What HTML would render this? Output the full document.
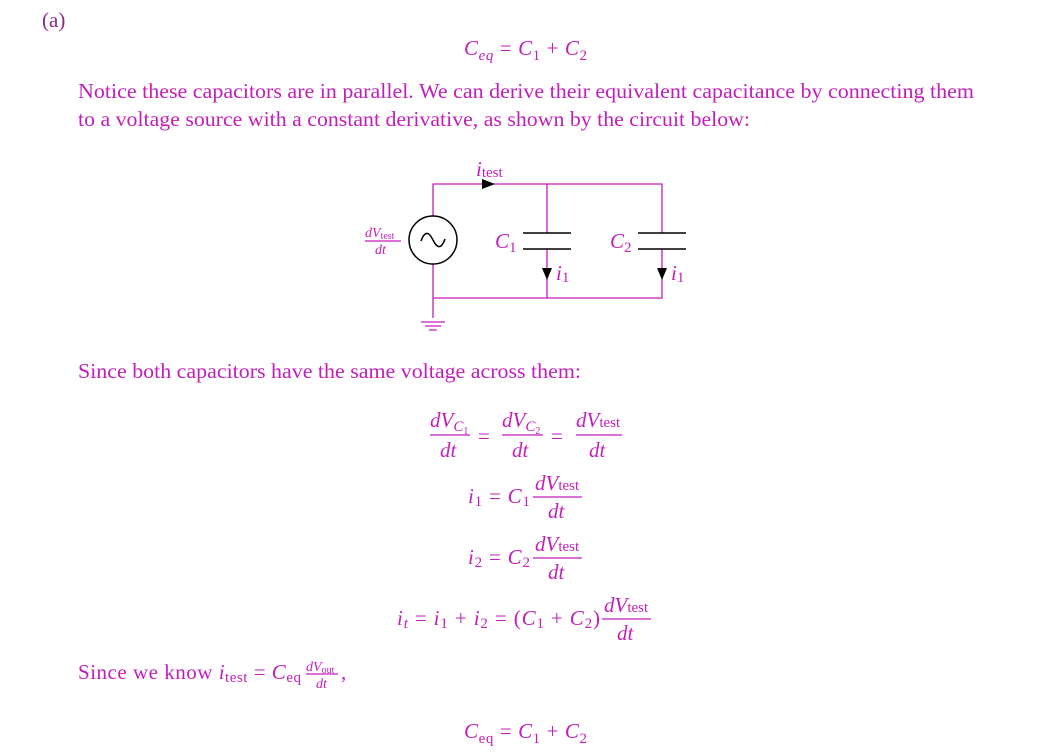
<!DOCTYPE html>
<html><head><meta charset="utf-8"><style>
html,body{margin:0;padding:0;background:#fff;}
svg{display:block;font-family:"Liberation Serif",serif;}
.t{fill:#c21fb8;font-size:21px;}
.i{font-style:italic;}
.s{font-size:15px;}
.w{stroke:#c21fb8;stroke-width:1.3;fill:none;}
.k{stroke:#000;stroke-width:1.5;fill:none;}
</style></head><body>
<svg width="1048" height="753" viewBox="0 0 1048 753">
<text x="42" y="27" style="fill:#8a2a8a;font-size:21px">(a)</text>

<g class="t">
<text x="464" y="55" textLength="123" lengthAdjust="spacing"><tspan class="i">C</tspan><tspan class="i s" dy="5">eq</tspan><tspan dy="-5"> = </tspan><tspan class="i">C</tspan><tspan class="s" dy="5">1</tspan><tspan dy="-5"> + </tspan><tspan class="i">C</tspan><tspan class="s" dy="5">2</tspan></text>
</g>

<text class="t" x="78" y="98" textLength="896" lengthAdjust="spacingAndGlyphs">Notice these capacitors are in parallel. We can derive their equivalent capacitance by connecting them</text>
<text class="t" x="78" y="126" textLength="672" lengthAdjust="spacingAndGlyphs">to a voltage source with a constant derivative, as shown by the circuit below:</text>

<g>
<path class="w" d="M433 216 V184 H662 V233 M547 184 V233 M547 249 V298 M662 249 V298 H433 V264 M433 298 V318"/>
<path class="w" d="M421 322 H445 M425 326 H441 M429 330 H437"/>
<path class="k" d="M523 233 H571 M523 249 H571 M638 233 H686 M638 249 H686"/>
<circle class="k" cx="433" cy="240" r="24"/>
<path class="k" d="M421 241 C425 230 429 232 433 240 C437 248 441 250 445 239"/>
<path d="M482 179 L495 184 L482 189 Z" fill="#000"/>
<path d="M542 268 L552 268 L547 280 Z" fill="#000"/>
<path d="M657 268 L667 268 L662 280 Z" fill="#000"/>
<g class="t">
<text x="476" y="176"><tspan class="i">i</tspan><tspan class="s" dy="1">test</tspan></text>
<text x="495" y="248"><tspan class="i">C</tspan><tspan class="s" dy="4">1</tspan></text>
<text x="610" y="248"><tspan class="i">C</tspan><tspan class="s" dy="4">2</tspan></text>
<text x="556" y="280"><tspan class="i">i</tspan><tspan class="s" dy="2">1</tspan></text>
<text x="671" y="280"><tspan class="i">i</tspan><tspan class="s" dy="2">1</tspan></text>
<text x="365" y="237" style="font-size:14px"><tspan class="i">dV</tspan><tspan style="font-size:10px" dy="2">test</tspan></text>
<text x="375" y="254" class="i" style="font-size:14px">dt</text>
</g>
<path class="w" d="M365 241 H401"/>
</g>

<text class="t" x="78" y="378" textLength="503" lengthAdjust="spacingAndGlyphs">Since both capacitors have the same voltage across them:</text>

<g class="t">
<text x="430" y="427"><tspan class="i">dV</tspan><tspan class="i s" dy="4">C</tspan><tspan style="font-size:10px" dy="3">1</tspan></text>
<text x="440" y="457" class="i">dt</text>
<text x="478" y="443">=</text>
<text x="502" y="427"><tspan class="i">dV</tspan><tspan class="i s" dy="4">C</tspan><tspan style="font-size:10px" dy="3">2</tspan></text>
<text x="512" y="457" class="i">dt</text>
<text x="551" y="443">=</text>
<text x="576" y="427"><tspan class="i">dV</tspan><tspan class="s" dy="0">test</tspan></text>
<text x="589" y="457" class="i">dt</text>
</g>
<path class="w" d="M430 435 H470 M502 435 H543 M576 435 H622"/>

<g class="t">
<text x="468" y="503" textLength="62" lengthAdjust="spacing"><tspan class="i">i</tspan><tspan class="s" dy="3">1</tspan><tspan dy="-3"> = </tspan><tspan class="i">C</tspan><tspan class="s" dy="3">1</tspan></text>
<text x="535" y="490"><tspan class="i">dV</tspan><tspan class="s">test</tspan></text>
<text x="548" y="518" class="i">dt</text>
</g>
<path class="w" d="M533 497 H582"/>

<g class="t">
<text x="468" y="564" textLength="62" lengthAdjust="spacing"><tspan class="i">i</tspan><tspan class="s" dy="3">2</tspan><tspan dy="-3"> = </tspan><tspan class="i">C</tspan><tspan class="s" dy="3">2</tspan></text>
<text x="535" y="551"><tspan class="i">dV</tspan><tspan class="s">test</tspan></text>
<text x="548" y="579" class="i">dt</text>
</g>
<path class="w" d="M533 558 H582"/>

<g class="t">
<text x="397" y="625" textLength="203" lengthAdjust="spacing"><tspan class="i">i</tspan><tspan class="i s" dy="3">t</tspan><tspan dy="-3"> = </tspan><tspan class="i">i</tspan><tspan class="s" dy="3">1</tspan><tspan dy="-3"> + </tspan><tspan class="i">i</tspan><tspan class="s" dy="3">2</tspan><tspan dy="-3"> = (</tspan><tspan class="i">C</tspan><tspan class="s" dy="3">1</tspan><tspan dy="-3"> + </tspan><tspan class="i">C</tspan><tspan class="s" dy="3">2</tspan><tspan dy="-3">)</tspan></text>
<text x="604" y="612"><tspan class="i">dV</tspan><tspan class="s">test</tspan></text>
<text x="617" y="640" class="i">dt</text>
</g>
<path class="w" d="M602 619 H651"/>

<g class="t">
<text x="78" y="679" textLength="223" lengthAdjust="spacing">Since we know <tspan class="i">i</tspan><tspan class="s" dy="3">test</tspan><tspan dy="-3"> = </tspan><tspan class="i">C</tspan><tspan class="s" dy="3">eq</tspan></text>
<text x="306" y="671" style="font-size:14px"><tspan class="i">dV</tspan><tspan style="font-size:10px" dy="2">out</tspan></text>
<text x="316" y="688" class="i" style="font-size:14px">dt</text>
<text x="341" y="679">,</text>
</g>
<path class="w" d="M306 674 H338"/>

<g class="t">
<text x="464" y="738" textLength="123" lengthAdjust="spacing"><tspan class="i">C</tspan><tspan class="s" dy="5">eq</tspan><tspan dy="-5"> = </tspan><tspan class="i">C</tspan><tspan class="s" dy="5">1</tspan><tspan dy="-5"> + </tspan><tspan class="i">C</tspan><tspan class="s" dy="5">2</tspan></text>
</g>
</svg>
</body></html>
